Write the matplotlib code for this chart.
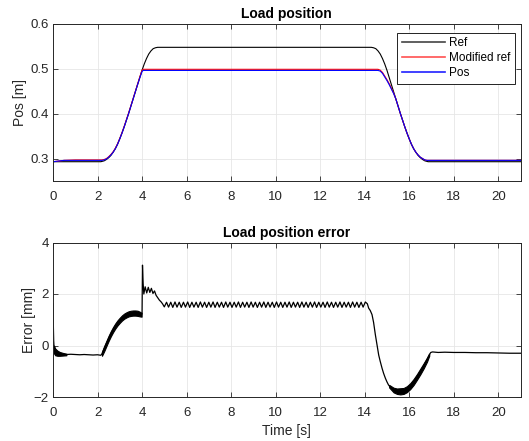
import matplotlib
matplotlib.use("Agg")
import matplotlib.pyplot as plt
import numpy as np

plt.rcParams['font.family'] = ['Liberation Sans', 'DejaVu Sans']

# ---------------- data: load position ----------------
ref_t = [0.0, 2.15, 2.3, 2.4, 2.5, 2.6, 2.7, 2.8, 2.9, 3.0, 3.1, 3.2, 3.3, 3.4, 3.5,
         3.6, 3.7, 3.8, 3.9, 4.0, 4.1, 4.2, 4.3, 4.4, 4.5, 4.6, 4.7, 4.8,
         14.2, 14.3, 14.4, 14.5, 14.6, 14.7, 14.8, 14.9, 15.0, 15.1, 15.2, 15.3, 15.4,
         15.5, 15.6, 15.7, 15.8, 15.9, 16.0, 16.1, 16.2, 16.3, 16.4, 16.5, 16.6, 16.7,
         16.85, 21.0]
ref_v = [0.293, 0.293, 0.295, 0.298, 0.302, 0.307, 0.314, 0.322, 0.332, 0.344, 0.357,
         0.371, 0.386, 0.401, 0.417, 0.433, 0.449, 0.465, 0.481, 0.497, 0.511, 0.523,
         0.533, 0.540, 0.545, 0.547, 0.548, 0.548,
         0.548, 0.548, 0.547, 0.545, 0.540, 0.533, 0.523, 0.511, 0.497, 0.481, 0.465,
         0.449, 0.433, 0.417, 0.401, 0.386, 0.371, 0.357, 0.344, 0.332, 0.322, 0.314,
         0.307, 0.302, 0.298, 0.295, 0.293, 0.293]

mod_t = [0.0, 0.5, 1.0, 2.2, 2.3, 2.4, 2.5, 2.6, 2.7, 2.8, 2.9, 3.0, 3.1, 3.2, 3.3, 3.4,
         3.5, 3.6, 3.7, 3.8, 3.9, 4.0, 4.05, 14.6, 14.7, 14.8, 14.9, 15.0, 15.1, 15.2,
         15.3, 15.4, 15.5, 15.6, 15.7, 15.8, 15.9, 16.0, 16.1, 16.2, 16.3, 16.4, 16.5,
         16.6, 16.7, 16.8, 21.0]
mod_v = [0.293, 0.296, 0.297, 0.297, 0.298, 0.300, 0.304, 0.309, 0.315, 0.323, 0.333,
         0.345, 0.358, 0.372, 0.387, 0.402, 0.418, 0.434, 0.450, 0.466, 0.482, 0.497,
         0.499, 0.499, 0.497, 0.492, 0.484, 0.476, 0.467, 0.457, 0.446, 0.433, 0.417,
         0.401, 0.386, 0.371, 0.357, 0.344, 0.332, 0.322, 0.314, 0.308, 0.303, 0.300,
         0.297, 0.296, 0.296]

pos_t = [0.0, 0.5, 1.0, 2.2, 2.3, 2.4, 2.5, 2.6, 2.7, 2.8, 2.9, 3.0, 3.1, 3.2, 3.3, 3.4,
         3.5, 3.6, 3.7, 3.8, 3.9, 4.0, 4.05, 14.6, 14.7, 14.8, 14.9, 15.0, 15.1, 15.2,
         15.3, 15.4, 15.5, 15.6, 15.7, 15.8, 15.9, 16.0, 16.1, 16.2, 16.3, 16.4, 16.5,
         16.6, 16.7, 16.8, 21.0]
pos_v = [0.293, 0.296, 0.296, 0.296, 0.297, 0.299, 0.303, 0.308, 0.314, 0.322, 0.332,
         0.344, 0.357, 0.371, 0.386, 0.401, 0.417, 0.433, 0.449, 0.465, 0.480, 0.494,
         0.4965, 0.4965, 0.495, 0.490, 0.482, 0.474, 0.465, 0.455, 0.445, 0.433, 0.417,
         0.401, 0.386, 0.371, 0.357, 0.344, 0.332, 0.322, 0.314, 0.308, 0.303, 0.300,
         0.297, 0.296, 0.296]

# ---------------- data: load position error [mm] ----------------
err_t = [0.0, 0.01, 0.03, 0.05, 0.08, 0.12, 0.2, 0.3, 0.45, 0.6, 0.8, 1.0, 1.2, 1.4,
         1.6, 1.8, 2.0, 2.15,
         2.2, 2.3, 2.4, 2.5, 2.6, 2.7, 2.8, 2.9, 3.0, 3.1, 3.2, 3.3, 3.4, 3.5, 3.6, 3.7,
         3.8, 3.9, 3.98,
         4.0, 4.02, 4.05, 4.08, 4.14, 4.21, 4.28, 4.35, 4.42, 4.49, 4.56, 4.63, 4.7, 4.78,
         4.85, 4.92,
         5.00, 5.10, 5.19, 5.29, 5.38, 5.48, 5.57, 5.67, 5.76, 5.86, 5.95, 6.05, 6.14,
         6.24, 6.33, 6.43, 6.52, 6.62, 6.71, 6.81, 6.90, 7.00, 7.09, 7.19, 7.28, 7.38,
         7.47, 7.57, 7.66, 7.76, 7.85, 7.95, 8.04, 8.14, 8.23, 8.33, 8.42, 8.52, 8.61,
         8.71, 8.80, 8.90, 8.99, 9.09, 9.18, 9.28, 9.37, 9.47, 9.56, 9.66, 9.75, 9.85,
         9.94, 10.04, 10.13, 10.23, 10.32, 10.42, 10.51, 10.61, 10.70, 10.80, 10.89,
         10.99, 11.08, 11.18, 11.27, 11.37, 11.46, 11.56, 11.65, 11.75, 11.84, 11.94,
         12.03, 12.13, 12.22, 12.32, 12.41, 12.51, 12.60, 12.70, 12.79, 12.89, 12.98,
         13.08, 13.17, 13.27, 13.36, 13.46, 13.55, 13.65, 13.74, 13.84, 13.93, 14.03,
         14.12,
         14.18, 14.25, 14.33, 14.4, 14.48, 14.56, 14.63, 14.7, 14.78, 14.85, 14.93, 15.0,
         15.07, 15.15, 15.3, 15.45, 15.6, 15.75, 15.9, 16.05, 16.2, 16.35, 16.5, 16.65,
         16.8, 16.9, 16.97, 17.05, 17.3, 17.6, 18.0, 18.5, 19.0, 19.5, 20.0, 20.5, 21.0]
err_v = [1.62, 1.0, 0.2, -0.1, -0.2, -0.26, -0.3, -0.32, -0.34, -0.35, -0.34, -0.35,
         -0.36, -0.35, -0.36, -0.37, -0.36, -0.38,
         -0.32, -0.12, 0.08, 0.28, 0.46, 0.62, 0.76, 0.88, 0.98, 1.07, 1.14, 1.19, 1.23,
         1.25, 1.26, 1.26, 1.25, 1.22, 1.19,
         1.25, 3.12, 2.4, 2.0, 2.28, 2.04, 2.26, 2.06, 2.22, 2.02, 2.12, 1.95, 1.86, 1.76,
         1.7, 1.62,
         1.50, 1.68, 1.49, 1.68, 1.48, 1.69, 1.49, 1.68, 1.48, 1.68,
         1.49, 1.69, 1.48, 1.68, 1.49, 1.68, 1.48, 1.69, 1.49, 1.68,
         1.48, 1.68, 1.49, 1.69, 1.48, 1.68, 1.49, 1.68, 1.48, 1.69,
         1.49, 1.68, 1.48, 1.68, 1.49, 1.69, 1.48, 1.68, 1.49, 1.68,
         1.48, 1.69, 1.49, 1.68, 1.48, 1.68, 1.49, 1.69, 1.48, 1.68,
         1.49, 1.68, 1.48, 1.69, 1.49, 1.68, 1.48, 1.68, 1.49, 1.69,
         1.48, 1.68, 1.49, 1.68, 1.48, 1.69, 1.49, 1.68, 1.48, 1.68,
         1.49, 1.69, 1.48, 1.68, 1.49, 1.68, 1.48, 1.69, 1.49, 1.68,
         1.48, 1.68, 1.49, 1.69, 1.48, 1.68, 1.49, 1.68, 1.48, 1.69,
         1.49, 1.68, 1.48, 1.68, 1.49, 1.69, 1.62,
         1.45, 1.36, 1.2, 0.9, 0.42, 0.0, -0.37, -0.62, -0.88, -1.08, -1.27, -1.41,
         -1.53, -1.62, -1.73, -1.77, -1.78, -1.76, -1.69, -1.57, -1.41, -1.22, -1.01,
         -0.79, -0.55, -0.36, -0.27, -0.25, -0.27, -0.26, -0.27, -0.27, -0.28, -0.28,
         -0.29, -0.30, -0.30]

# high-frequency oscillation envelopes (lower / upper) [mm]
band1_t = [0.04, 0.1, 0.2, 0.3, 0.45, 0.6]
band1_lo = [-0.30, -0.38, -0.40, -0.40, -0.39, -0.38]
band1_hi = [0.0, -0.12, -0.20, -0.25, -0.29, -0.32]

band2_t = [2.2, 2.3, 2.4, 2.5, 2.6, 2.7, 2.8, 2.9, 3.0, 3.1, 3.2, 3.3, 3.4, 3.5, 3.6,
           3.7, 3.8, 3.9, 3.98]
band2_lo = [-0.40, -0.22, -0.02, 0.18, 0.36, 0.52, 0.66, 0.78, 0.88, 0.97, 1.04, 1.09,
            1.13, 1.15, 1.16, 1.16, 1.15, 1.13, 1.12]
band2_hi = [-0.24, -0.02, 0.18, 0.38, 0.56, 0.72, 0.86, 0.98, 1.08, 1.17, 1.24, 1.29,
            1.33, 1.35, 1.36, 1.36, 1.35, 1.31, 1.27]

band3_t = [15.1, 15.3, 15.45, 15.6, 15.75, 15.9, 16.05, 16.2, 16.35, 16.5, 16.65, 16.8,
           16.9]
band3_lo = [-1.63, -1.82, -1.88, -1.90, -1.88, -1.81, -1.69, -1.53, -1.33, -1.12,
            -0.89, -0.63, -0.40]
band3_hi = [-1.53, -1.64, -1.67, -1.66, -1.65, -1.58, -1.46, -1.30, -1.11, -0.90,
            -0.69, -0.47, -0.32]

x_ticks = [0, 2, 4, 6, 8, 10, 12, 14, 16, 18, 20]
pos_ticks = [0.3, 0.4, 0.5, 0.6]
err_ticks = [-2, 0, 2, 4]

# ---------------- figure ----------------
W, H = 529, 441
fig = plt.figure(figsize=(W / 100, H / 100), dpi=100)
fig.patch.set_facecolor('white')

tick_col = '#262626'
grid_col = '#e6e6e6'


def style(ax):
    ax.set_xlim(0, 21)
    ax.set_xticks(x_ticks)
    ax.grid(True, color=grid_col, lw=0.6)
    ax.set_axisbelow(True)
    ax.tick_params(direction='in', length=3.5, width=0.6, colors=tick_col,
                   labelsize=9.5, top=True, right=True)
    ax.tick_params(axis='x', pad=7)
    ax.tick_params(axis='y', pad=3)
    for s in ax.spines.values():
        s.set_color(tick_col)
        s.set_linewidth(0.7)


ax1 = fig.add_axes([53 / W, 1 - 181 / H, 467.5 / W, 157 / H])
style(ax1)
ax1.plot(ref_t, ref_v, color='black', lw=0.8, label='Ref')
ax1.plot(mod_t, mod_v, color='#ff0000', lw=0.8, label='Modified ref')
ax1.plot(pos_t, pos_v, color='#0000ff', lw=0.8, label='Pos')
ax1.set_ylim(0.25, 0.6)
ax1.set_yticks(pos_ticks)
ax1.set_yticklabels(['0.3', '0.4', '0.5', '0.6'])
ax1.set_ylabel('Pos [m]', fontsize=10, color=tick_col, labelpad=2.5)
ax1.set_title('Load position', fontsize=10, fontweight='bold', color='black', pad=4)
leg = ax1.legend(loc='upper right', bbox_to_anchor=(0.988, 0.945), fontsize=8.5,
                 frameon=True, fancybox=False, edgecolor='black', framealpha=1,
                 handlelength=3.6, handletextpad=0.35, borderpad=0.4,
                 labelspacing=0.25, borderaxespad=0)
leg.get_frame().set_linewidth(0.6)
for hl, c in zip(leg.get_lines(), ['#444444', '#ff5050', '#2020ff']):
    hl.set_linewidth(1.2)
    hl.set_color(c)

ax2 = fig.add_axes([53 / W, 1 - 397 / H, 467.5 / W, 154.5 / H])
style(ax2)
ax2.plot(err_t, err_v, color='black', lw=0.9)
ax2.fill_between(band1_t, band1_lo, band1_hi, color='black', lw=0.8)
ax2.fill_between(band2_t, band2_lo, band2_hi, color='black', lw=0.8)
ax2.fill_between(band3_t, band3_lo, band3_hi, color='black', lw=0.8)
ax2.set_ylim(-2, 4)
ax2.set_yticks(err_ticks)
ax2.set_ylabel('Error [mm]', fontsize=10, color=tick_col, labelpad=-1.5)
ax2.set_xlabel('Time [s]', fontsize=10, color=tick_col, labelpad=4)
ax2.set_title('Load position error', fontsize=10, fontweight='bold', color='black', pad=4)

fig.savefig('out.png', dpi=100)
